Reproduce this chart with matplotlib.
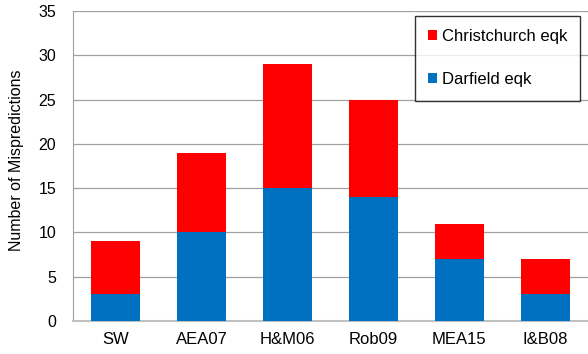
import matplotlib
matplotlib.use("Agg")
import matplotlib.pyplot as plt

plt.rcParams['font.family'] = ['Liberation Sans', 'DejaVu Sans']

categories = ["SW", "AEA07", "H&M06", "Rob09", "MEA15", "I&B08"]
darfield = [3, 10, 15, 14, 7, 3]
christchurch = [6, 9, 14, 11, 4, 4]

fig = plt.figure(figsize=(5.88, 3.54), dpi=100)
ax = fig.add_axes([0.124, 0.093, 0.876, 0.876])

x = range(len(categories))
ax.bar(x, darfield, width=0.57, color="#0070C0", label="Darfield eqk", zorder=3)
ax.bar(x, christchurch, width=0.57, bottom=darfield, color="#FF0000", label="Christchurch eqk", zorder=3)

ax.set_xlim(-0.5, len(categories) - 0.5)
ax.set_ylim(0, 35)
ax.set_yticks(range(0, 36, 5))
ax.set_xticks(list(x))
ax.set_xticklabels(categories)
ax.yaxis.grid(True, color="#A0A0A0", linewidth=0.9, zorder=0)
ax.tick_params(axis='x', length=0, labelsize=12, pad=8)
ax.tick_params(axis='y', length=0, labelsize=11.5, pad=12)
for s in ["top", "right"]:
    ax.spines[s].set_visible(False)
ax.spines["left"].set_color("#A0A0A0")
ax.spines["bottom"].set_color("#C0C0C0")
ax.spines["bottom"].set_linewidth(1.5)
ax.set_ylabel("Number of Mispredictions", fontsize=11.5)
ax.yaxis.set_label_coords(-0.095, 0.52)

handles, labels = ax.get_legend_handles_labels()
leg = ax.legend(handles[::-1], labels[::-1], loc="upper right", bbox_to_anchor=(0.985, 0.985),
                fontsize=12, frameon=True, fancybox=False, edgecolor="black",
                handlelength=0.55, handleheight=0.55, handletextpad=0.25,
                labelspacing=1.7, borderpad=0.8, borderaxespad=0)
leg.get_frame().set_linewidth(1.0)

fig.savefig("out.png", dpi=100)
